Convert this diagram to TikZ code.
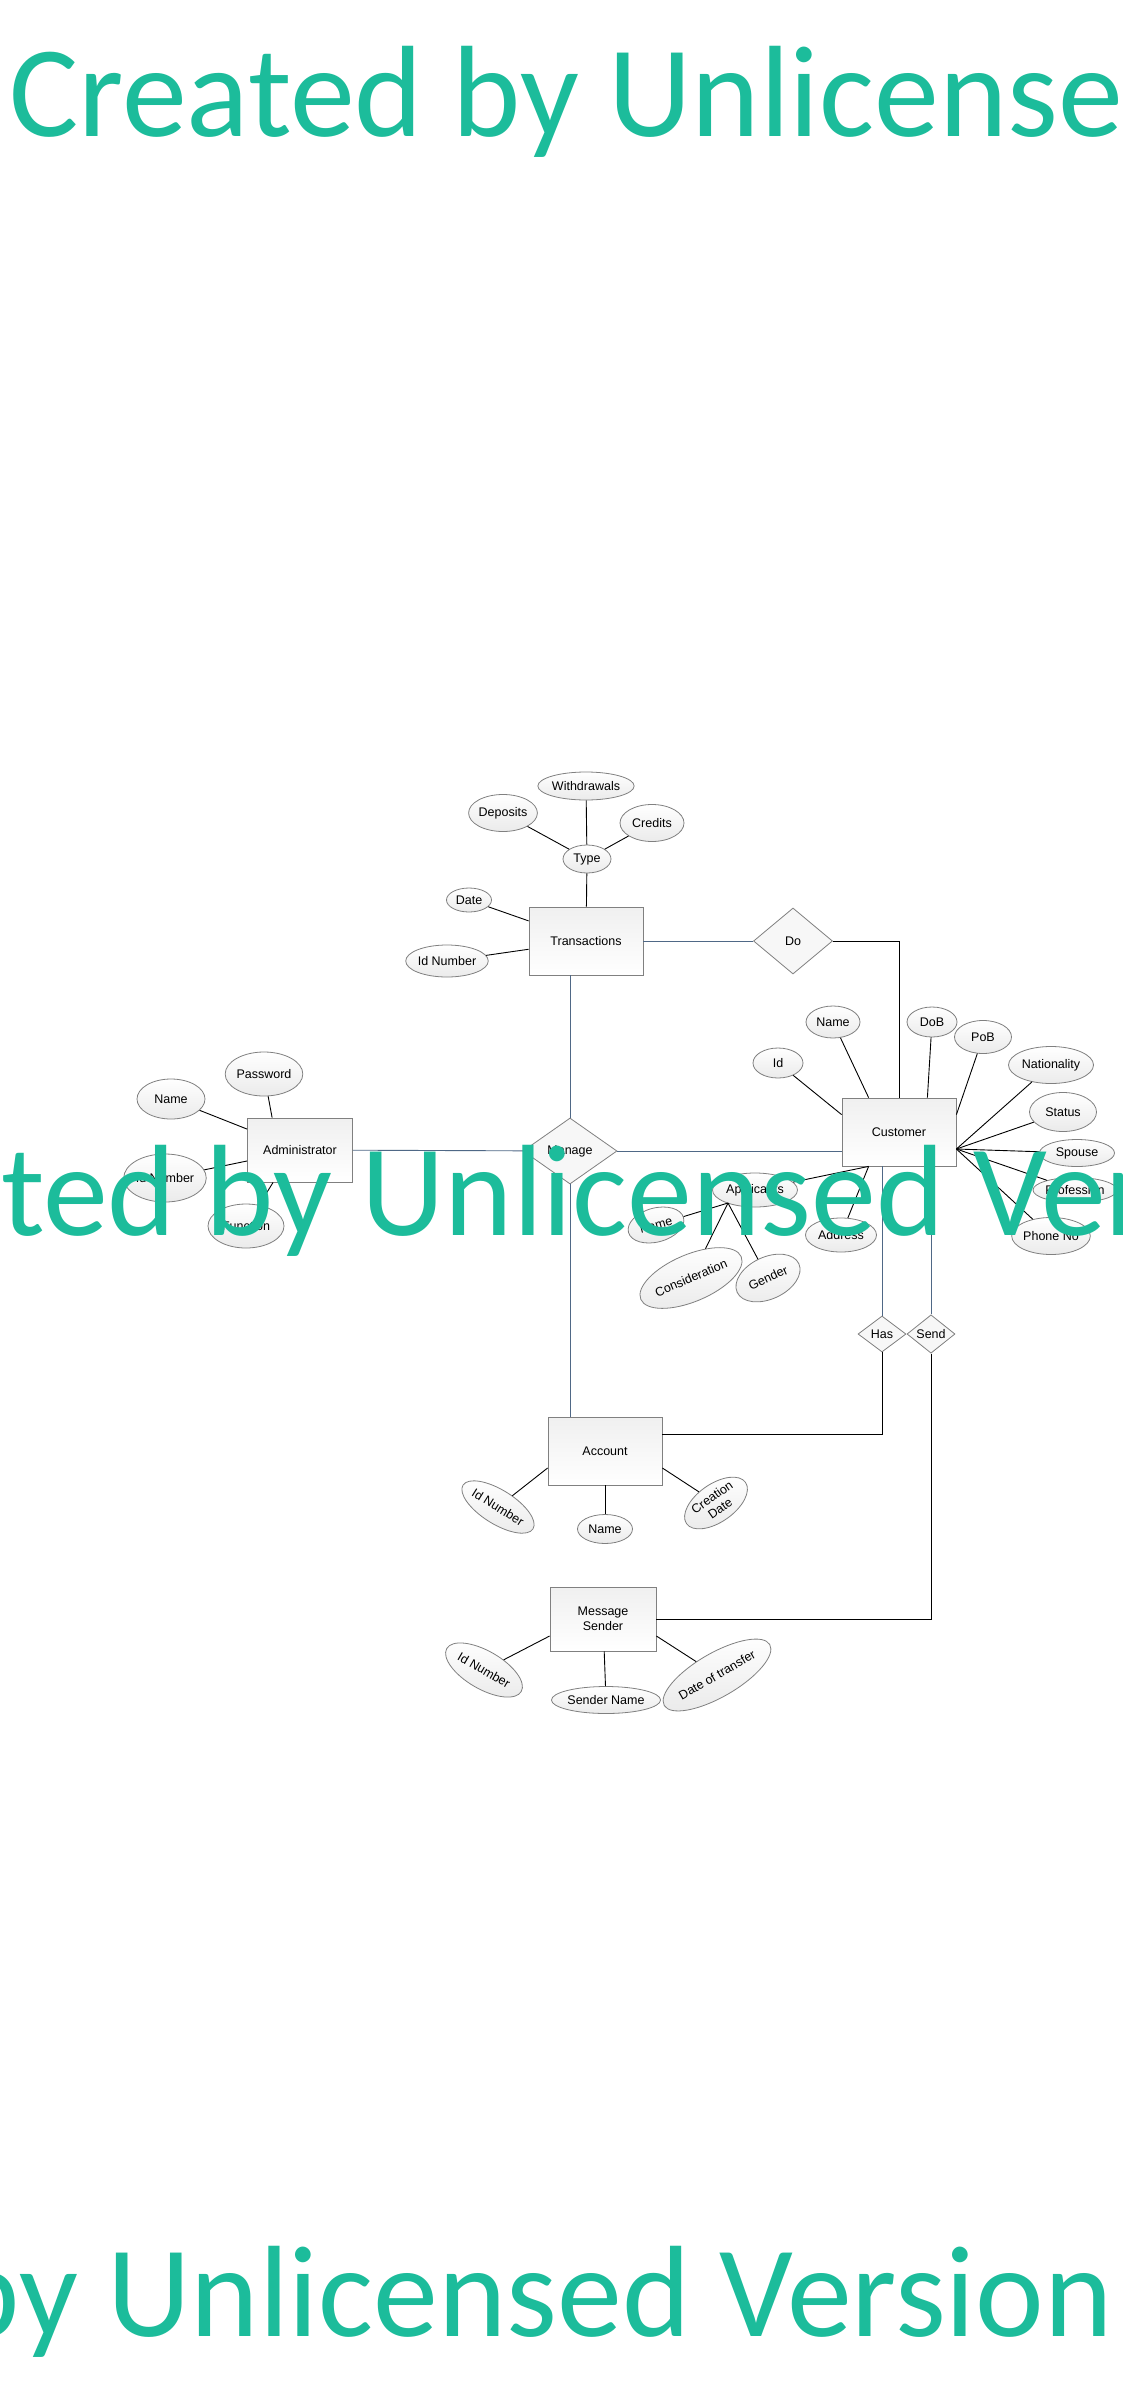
\documentclass[tikz,border=0pt]{standalone}
\usepackage{fontspec}
\setmainfont{Liberation Sans}
\newfontfamily\wmfont{Carlito}
\usepackage{tikz}
\usetikzlibrary{shapes.geometric,calc}
\usepackage{xcolor}
\definecolor{erline}{RGB}{79,104,134}
\definecolor{erborder}{RGB}{128,128,128}
\definecolor{wmark}{RGB}{28,188,155}

\tikzset{
    entity/.style={draw=erborder, line width=0.8pt, top color=gray!12, bottom color=white, minimum width=114pt, minimum height=68pt, inner sep=0pt, align=center},
    attr/.style={ellipse, draw=erborder, line width=0.8pt, top color=white, bottom color=gray!16, inner sep=0pt, align=center},
    rel/.style={diamond, draw=erborder, line width=0.8pt, fill=gray!6, inner sep=0pt},
    link/.style={line width=0.9pt, black},
    rlink/.style={line width=0.9pt, erline},
    wm/.style={anchor=base west, inner sep=0pt, text=wmark, font=\wmfont\fontsize{130}{130}\selectfont}
}

\begin{document}
\begin{tikzpicture}[x=1pt, y=-1pt, font=\fontsize{12.5}{15}\selectfont]
\useasboundingbox (0,0) rectangle (1123,2381);
\fill[white] (0,0) rectangle (1123,2381);

\begin{scope}
    \node[entity] (trans) at (586,941) {Transactions};
    \node[attr, minimum width=48pt, minimum height=28pt] (type) at (587,859) {Type};
    \node[attr, minimum width=92pt, minimum height=28pt] (withdr) at (586,786) {Withdrawals};
    \node[attr, minimum width=68pt, minimum height=37pt] (depos) at (503,813) {Deposits};
    \node[attr, minimum width=64pt, minimum height=37pt] (credit) at (652,823) {Credits};
    \node[attr, minimum width=45pt, minimum height=24pt] (tdate) at (469,900) {Date};
    \node[attr, minimum width=77pt, minimum height=32pt] (tid) at (447,961) {Id Number};
    \draw[link] (withdr) -- (type);
    \draw[link] (depos) -- (type);
    \draw[link] (credit) -- (type);
    \draw[link] (type) -- (trans);
    \draw[link] (tdate) -- (trans);
    \draw[link] (tid) -- (trans);
\end{scope}

\begin{scope}
    \node[entity] (cust) at (899,1132) {Customer};
    \coordinate (cfan) at ([yshift=-17pt]cust.east);
    \coordinate (csw) at ([xshift=27pt]cust.south west);
    \node[attr, minimum width=50pt, minimum height=30pt] (cid) at (778,1063) {Id};
    \node[attr, minimum width=54pt, minimum height=32pt] (cname) at (833,1022) {Name};
    \node[attr, minimum width=50pt, minimum height=30pt] (dob) at (932,1022) {DoB};
    \node[attr, minimum width=57pt, minimum height=33pt] (pob) at (983,1037) {PoB};
    \draw[link] (cid) -- ([yshift=-17pt]cust.north west);
    \draw[link] (cname) -- ([xshift=27pt]cust.north west);
    \draw[link] (dob) -- ([xshift=-29pt]cust.north east);
    \draw[link] (pob) -- ([yshift=-17pt]cust.north east);
    \foreach \n/\x/\y/\w/\h/\t in {nat/1051/1065/85/37/Nationality, status/1063/1112/67/39/Status, spouse/1077/1153/75/27/Spouse, prof/1075/1190/84/25/Profession, phone/1051/1236/76/37/Phone No}{
        \node[attr, minimum width=\w pt, minimum height=\h pt] (\n) at (\x,\y) {\t};
        \draw[link] (cfan) -- (\n);
    }
    \node[attr, minimum width=85pt, minimum height=34pt] (appl) at (755,1190) {Applicants};
    \node[attr, minimum width=71pt, minimum height=34pt] (addr) at (841,1235) {Address};
    \coordinate (aplo) at ([xshift=-27pt, yshift=-13pt]appl.center);
    \node[attr, minimum width=57pt, minimum height=34pt, rotate=15] (apname) at (656,1225) {Name};
    \node[attr, minimum width=103pt, minimum height=47pt, rotate=23] (consid) at (691,1278) {Consideration};
    \node[attr, minimum width=68pt, minimum height=42pt, rotate=25] (gender) at (768,1278) {Gender};
    \draw[link] (appl) -- (csw);
    \draw[link] (addr) -- (csw);
    \draw[link] (aplo) -- (apname);
    \draw[link] (aplo) -- (consid);
    \draw[link] (aplo) -- (gender);
\end{scope}

\begin{scope}
    \node[entity, minimum width=105pt, minimum height=64pt] (admin) at (300,1150) {Administrator};
    \node[attr, minimum width=68pt, minimum height=40pt] (adname) at (171,1099) {Name};
    \node[attr, minimum width=75pt, minimum height=44pt] (pwd) at (264,1074) {Password};
    \node[attr, minimum width=78pt, minimum height=48pt] (adid) at (165,1178) {Id Number};
    \node[attr, minimum width=76pt, minimum height=44pt] (func) at (246,1226) {Function};
    \draw[link] (adname) -- (admin);
    \draw[link] (pwd) -- ([xshift=25pt]admin.north west);
    \draw[link] (adid) -- (admin);
    \draw[link] (func) -- ([xshift=26pt]admin.south west);
\end{scope}

\begin{scope}
    \node[entity] (acct) at (605,1451) {Account};
    \node[attr, minimum width=80pt, minimum height=34pt, rotate=-32] (acid) at (498,1507) {Id Number};
    \node[attr, minimum width=55pt, minimum height=29pt] (acname) at (605,1529) {Name};
    \node[attr, minimum width=72pt, minimum height=38pt, rotate=35, font=\fontsize{12.5}{14}\selectfont] (acdate) at (716,1503) {Creation\\Date};
    \draw[link] (acid) -- ([yshift=-17pt]acct.west);
    \draw[link] (acname) -- (acct);
    \draw[link] (acdate) -- ([yshift=-17pt]acct.east);

    \node[entity, minimum width=106pt, minimum height=64pt] (msg) at (603,1619) {Message\\Sender};
    \node[attr, minimum width=86pt, minimum height=38pt, rotate=-30] (msid) at (484,1670) {Id Number};
    \node[attr, minimum width=107pt, minimum height=27pt] (sname) at (606,1700) {Sender Name};
    \node[attr, minimum width=106pt, minimum height=44pt, rotate=30] (mdate) at (717,1675) {Date of transfer};
    \draw[link] (msid) -- ([yshift=-17pt]msg.west);
    \draw[link] (sname) -- (msg);
    \draw[link] (mdate) -- ([yshift=-17pt]msg.east);
\end{scope}

\begin{scope}
    \node[rel, minimum width=79pt, minimum height=66pt] (do) at (793,941) {Do};
    \node[rel, minimum width=94pt, minimum height=66pt] (manage) at (570,1151) {Manage};
    \node[rel, minimum width=48pt, minimum height=36pt] (has) at (882,1334) {Has};
    \node[rel, minimum width=48pt, minimum height=37pt] (send) at (931,1334) {Send};
    \draw[rlink] (trans) -- (do);
    \draw[link] (do.east) -| (cust.north);
    \draw[rlink] (manage.north) -- (manage.north |- trans.south);
    \draw[rlink] (admin) -- (manage);
    \draw[rlink] (manage.east) -- (manage.east -| cust.west);
    \draw[rlink] (manage.south) -- (manage.south |- acct.north);
    \draw[rlink] (has.north) -- (has.north |- cust.south);
    \draw[rlink] (send.north) -- (send.north |- cust.south);
    \draw[link] (has.south) |- ([yshift=17pt]acct.east);
    \draw[link] (send.south) |- (msg.east);
\end{scope}

\begin{scope}
    \clip (0,0) rectangle (1123,2381);
    \node[wm] (wmtop) at (9,137) {Created by Unlicensed Version};
    \node[wm] (wmmid) at (-238,1235) {Created by Unlicensed Version};
    \node[wm] (wmbot) at (-492,2336) {Created by Unlicensed Version};
\end{scope}
\end{tikzpicture}
\end{document}
